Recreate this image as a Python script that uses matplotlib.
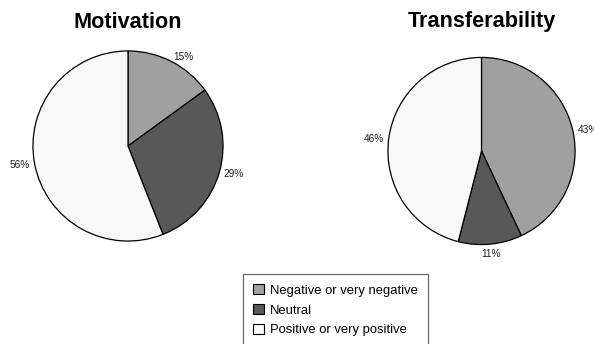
import numpy as np
import matplotlib
matplotlib.use("Agg")
import matplotlib.pyplot as plt
from matplotlib.patches import Patch

plt.rcParams['font.family'] = ['Liberation Sans', 'DejaVu Sans']

categories = ["Negative or very negative", "Neutral", "Positive or very positive"]
colors = ["#a0a0a0", "#585858", "#f8f8f8"]
motivation = [15, 29, 56]
transferability = [43, 11, 46]
titles = ["Motivation", "Transferability"]

W, H = 594, 344
fig = plt.figure(figsize=(W / 100, H / 100), dpi=100)


def add_pie(cx, cy, r, values, title):
    ax = fig.add_axes([(cx - r) / W, (H - cy - r) / H, 2 * r / W, 2 * r / H])
    wedges, texts = ax.pie(values, colors=colors, startangle=90, counterclock=False,
                           labels=[f"{v}%" for v in values], labeldistance=1.05,
                           wedgeprops=dict(edgecolor="black", linewidth=0.9),
                           textprops=dict(fontsize=7.3, color="#222222"))
    for w, t in zip(wedges, texts):
        ang = np.deg2rad((w.theta1 + w.theta2) / 2)
        c, s = np.cos(ang), np.sin(ang)
        if abs(c) < 0.3:
            t.set_ha("center")
            t.set_va("top" if s < 0 else "bottom")
    ax.set_xlim(-1.01, 1.01)
    ax.set_ylim(-1.01, 1.01)
    ax.set_aspect("equal")
    fig.text(cx / W, 1 - 22 / H, title, ha="center", va="center",
             fontsize=15.6, fontweight="bold")


add_pie(128, 146, 96, motivation, titles[0])
add_pie(481.5, 151, 94.5, transferability, titles[1])

handles = [Patch(facecolor=c, edgecolor="black", linewidth=0.8) for c in colors]
leg = fig.legend(handles, categories, loc="upper left",
                 bbox_to_anchor=(243 / W, 1 - 274 / H), fontsize=9.4,
                 frameon=True, fancybox=False, handlelength=0.8,
                 handleheight=0.8, handletextpad=0.45, labelspacing=0.54,
                 borderpad=0.8, borderaxespad=0)
leg.get_frame().set_edgecolor("#444444")
leg.get_frame().set_linewidth(0.9)

fig.savefig("out.png", dpi=100)
